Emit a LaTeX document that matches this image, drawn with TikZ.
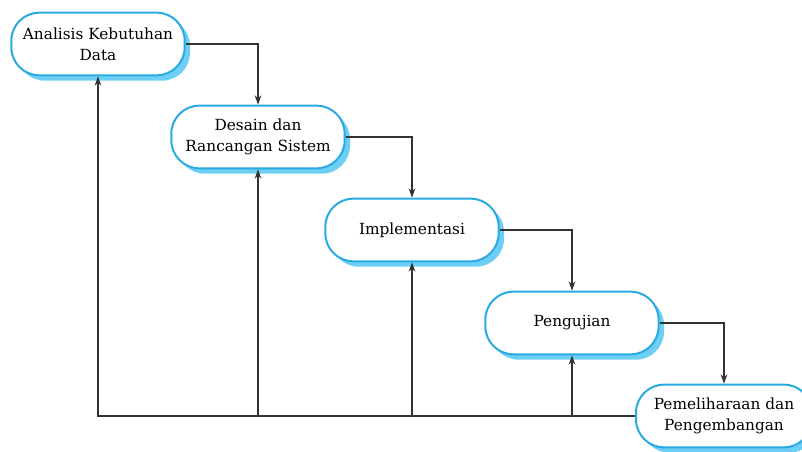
\documentclass[tikz,border=0pt]{standalone}
\usepackage{fontspec}
\setmainfont{DejaVu Serif}
\usepackage{tikz}
\usetikzlibrary{arrows.meta, shadows}

\definecolor{rimblue}{HTML}{29ABE2}
\definecolor{shadeblue}{HTML}{6DCFF6}
\definecolor{linegray}{HTML}{333333}

\tikzset{
    phase/.style={draw=rimblue, line width=1.5pt, fill=white, rounded corners=21pt,
        minimum width=130pt, minimum height=47pt, align=center, inner sep=1pt,
        font=\fontsize{11.5}{16}\selectfont,
        drop shadow={fill=shadeblue, opacity=1, shadow xshift=4pt, shadow yshift=-4pt}},
    flow/.style={draw=linegray, line width=1pt, -{Stealth[length=7pt, width=5pt]}}
}

\begin{document}
\begin{tikzpicture}[x=0.75pt, y=-0.75pt]
        \useasboundingbox (0,0) rectangle (802,452);
        % tahapan
        \node[phase] (analisis) at (98,44) {Analisis Kebutuhan\\Data};
        \node[phase] (desain) at (258,137) {Desain dan\\Rancangan Sistem};
        \node[phase] (implementasi) at (412,230) {Implementasi};
        \node[phase] (pengujian) at (572,323) {Pengujian};
        \node[phase, minimum width=132pt] (pemeliharaan) at (724,416) {Pemeliharaan dan\\Pengembangan};
        % alur ke bawah
        \draw[flow] (analisis.east) -| (desain.north);
        \draw[flow] (desain.east) -| (implementasi.north);
        \draw[flow] (implementasi.east) -| (pengujian.north);
        \draw[flow] (pengujian.east) -| (pemeliharaan.north);
        % umpan balik ke atas
        \draw[flow] (pemeliharaan.west) -| (analisis.south);
        \foreach \n in {desain, implementasi, pengujian}
            \draw[flow] (\n.south |- pemeliharaan.west) -- (\n.south);
    \end{tikzpicture}
\end{document}
